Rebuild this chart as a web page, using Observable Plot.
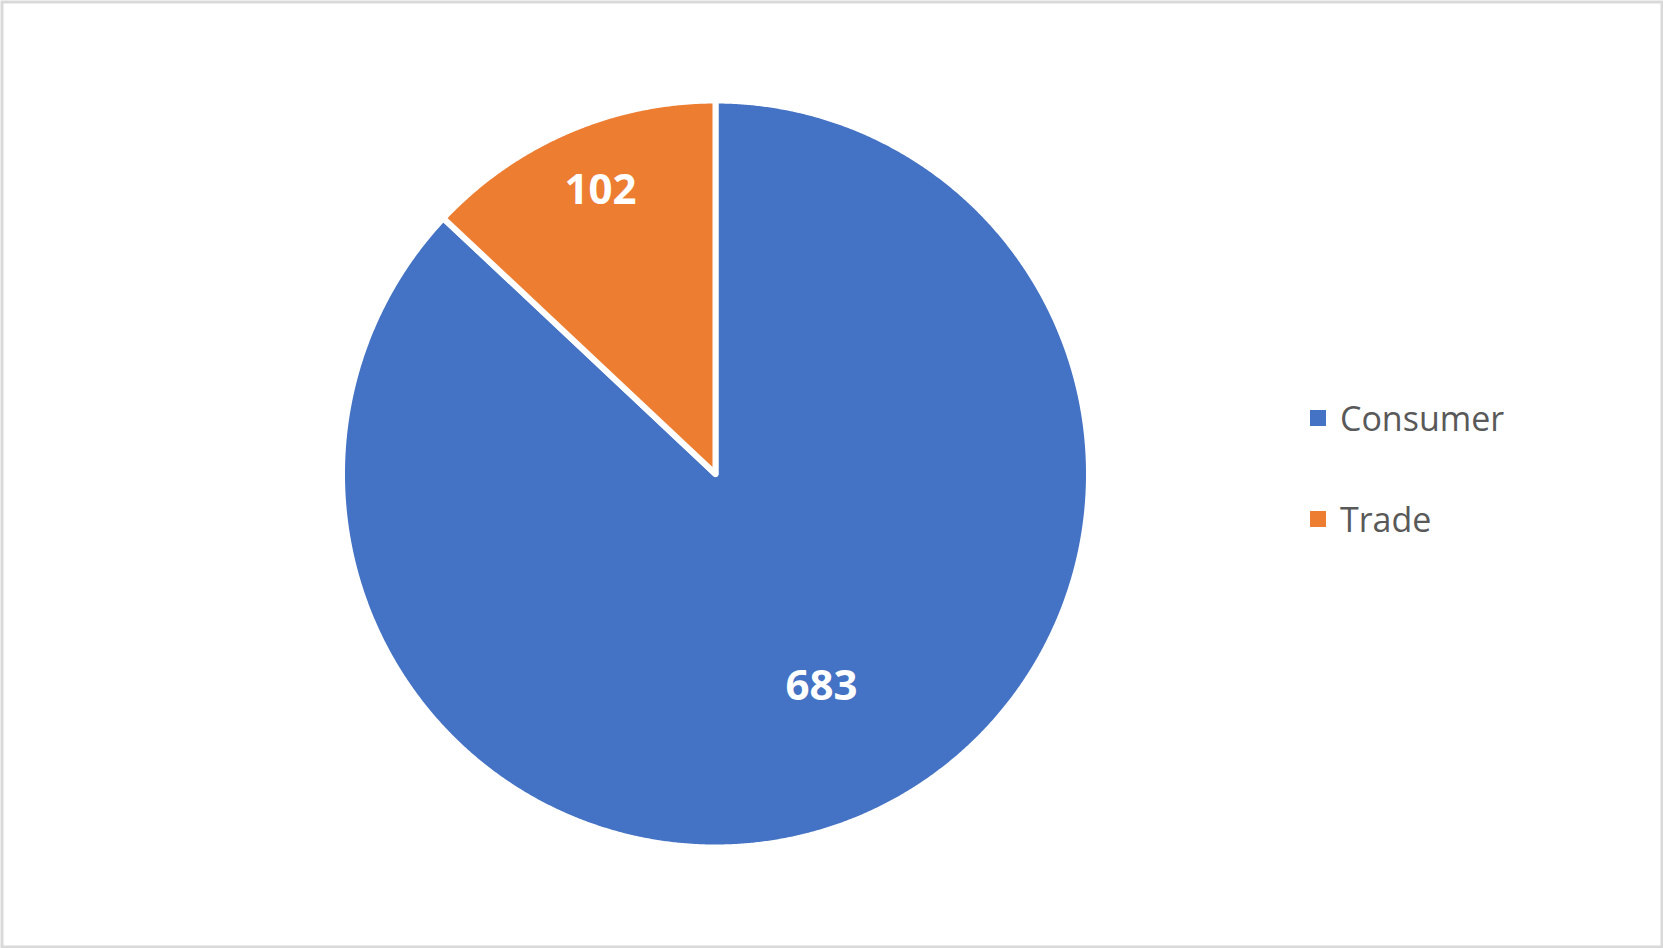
<!DOCTYPE html>
<html>
<head>
<meta charset="utf-8">
<script src="https://cdn.jsdelivr.net/npm/d3@7"></script>
<script src="https://cdn.jsdelivr.net/npm/@observablehq/plot@0.6"></script>
<style>
  html, body { margin: 0; padding: 0; background: #fff; }
  #wrap { position: relative; width: 1663px; height: 948px; overflow: hidden; }
  #wrap svg { position: absolute; left: 0; top: 0; }
  .legend { position: absolute; left: 1310px; font-family: "Open Sans", sans-serif; font-size: 34px; color: #595959; }
  .legend .row { position: absolute; left: 0; white-space: nowrap; display: flex; align-items: center; }
  .legend .sw { width: 16px; height: 16px; margin-right: 14px; }
</style>
</head>
<body>
<div id="wrap"></div>
<script>
// ---- data ----
const categories = ["Consumer", "Trade"];
const values = [683, 102];
const colors = ["#4472C4", "#ED7D31"];

// ---- layout constants ----
const W = 1663, H = 948;
const CX = 715, CY = 473.5, R = 373.5;
const labelRadius = {Consumer: 0.636, Trade: 0.819};
const labelAngleShift = {Consumer: -3.1, Trade: 1.3}; // degrees

// angles clockwise from 12 o'clock
const total = d3.sum(values);
let acc = 0;
const slices = categories.map((c, i) => {
  const a0 = acc / total * 2 * Math.PI;
  acc += values[i];
  const a1 = acc / total * 2 * Math.PI;
  return {category: c, value: values[i], a0, a1};
});

const pts = [];
for (const s of slices) {
  pts.push({category: s.category, x: 0, y: 0});
  const n = Math.max(2, Math.ceil((s.a1 - s.a0) / (Math.PI / 720)));
  for (let k = 0; k <= n; k++) {
    const a = s.a0 + (s.a1 - s.a0) * k / n;
    pts.push({category: s.category, x: Math.sin(a), y: Math.cos(a)});
  }
}

const labels = slices.map(s => {
  const m = (s.a0 + s.a1) / 2 + labelAngleShift[s.category] * Math.PI / 180;
  const r = labelRadius[s.category];
  return {category: s.category, text: String(s.value), x: r * Math.sin(m), y: r * Math.cos(m)};
});

const chart = Plot.plot({
  width: W, height: H, margin: 0,
  style: {background: "#fff", overflow: "visible"},
  x: {domain: [-1, 1], range: [CX - R, CX + R], axis: null},
  y: {domain: [-1, 1], range: [CY + R, CY - R], axis: null},
  color: {domain: categories, range: colors},
  marks: [
    Plot.line(pts, {x: "x", y: "y", z: "category", fill: "category", stroke: "#fff",
      strokeWidth: 6, strokeLinejoin: "round", curve: "linear-closed"}),
    Plot.text(labels, {x: "x", y: "y", text: "text", fill: "#fff", fontWeight: "bold",
      fontSize: 42, fontFamily: "Open Sans, sans-serif"}),
    Plot.frame({stroke: "#d9d9d9", strokeWidth: 3, inset: 1.5})
  ]
});
const wrap = document.getElementById("wrap");
wrap.appendChild(chart);

// legend
const legend = document.createElement("div");
legend.className = "legend";
legend.style.top = "0px";
const rowCenters = [418, 519];
categories.forEach((c, i) => {
  const row = document.createElement("div");
  row.className = "row";
  row.style.top = (rowCenters[i] - 24) + "px";
  row.style.height = "48px";
  const sw = document.createElement("div");
  sw.className = "sw";
  sw.style.background = colors[i];
  const t = document.createElement("span");
  t.textContent = c;
  row.appendChild(sw); row.appendChild(t);
  legend.appendChild(row);
});
wrap.appendChild(legend);
</script>
</body>
</html>
